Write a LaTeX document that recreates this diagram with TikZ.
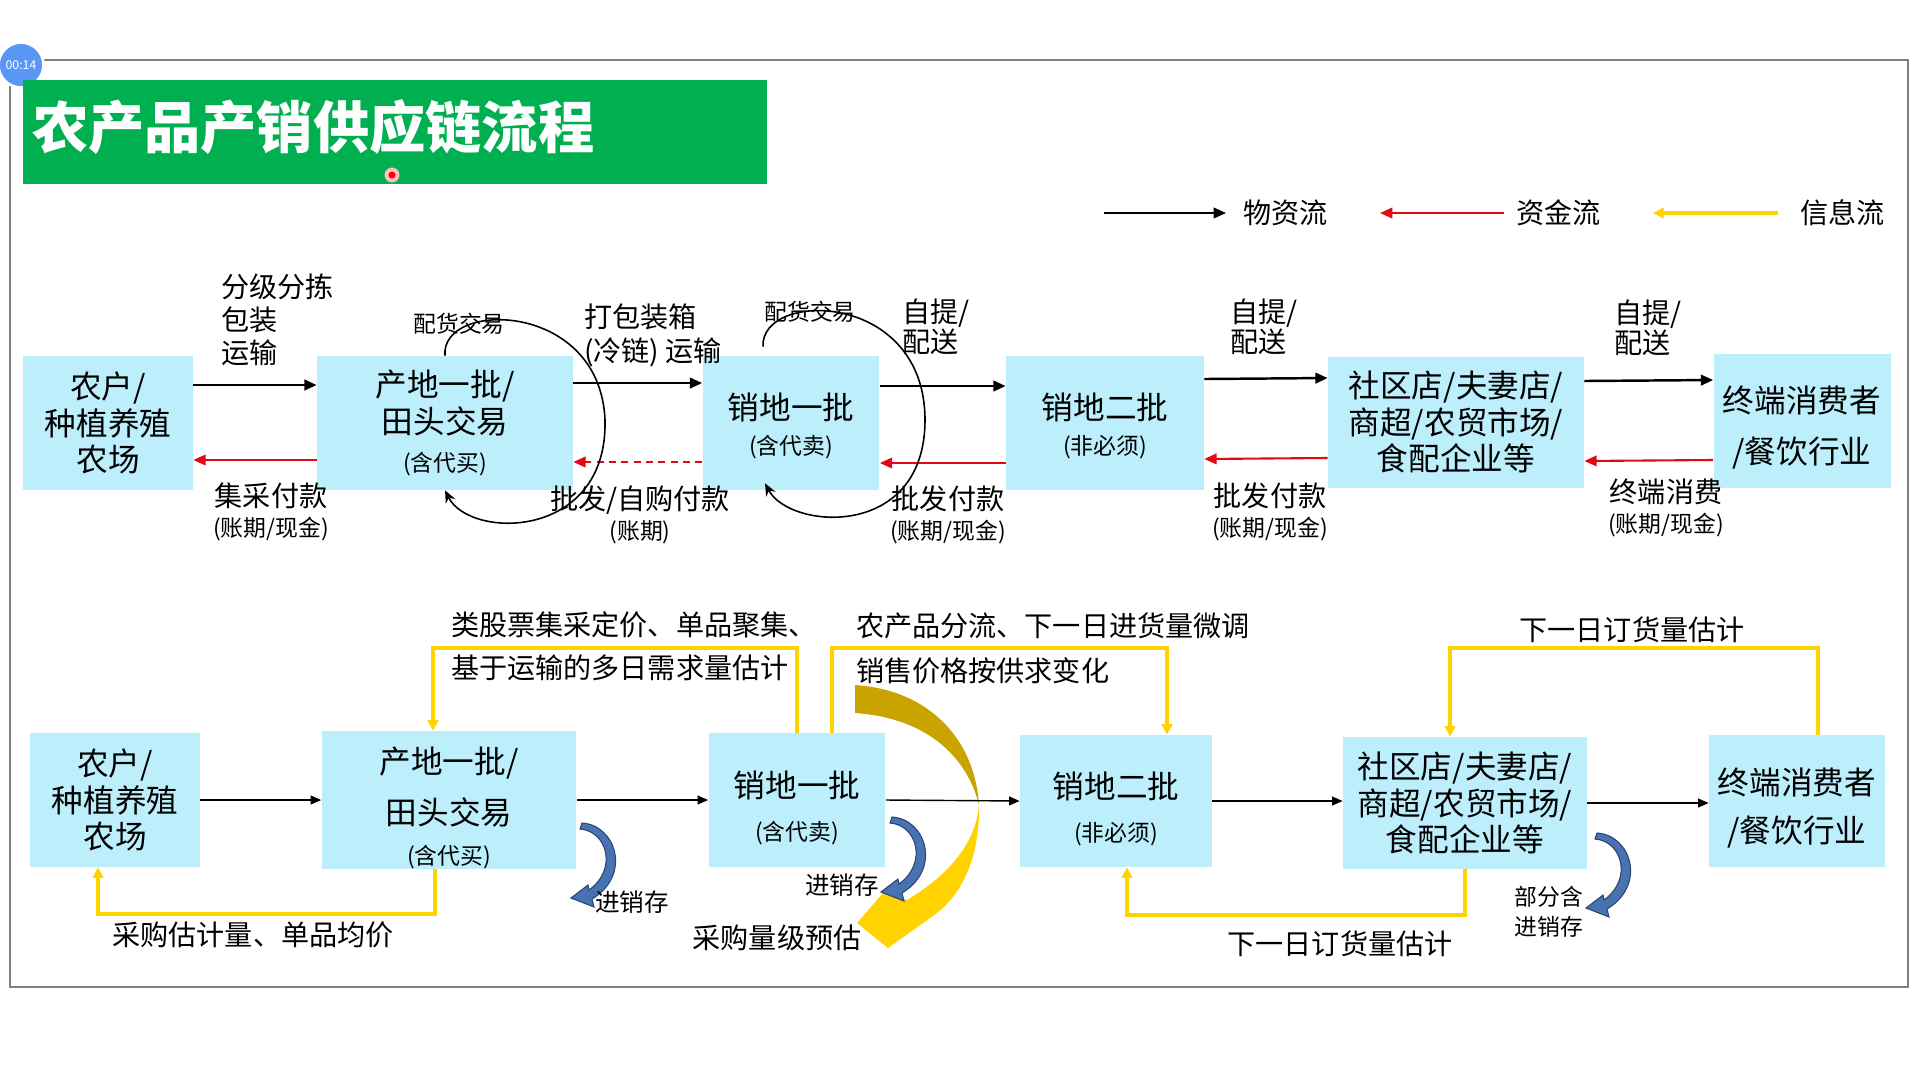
\documentclass[tikz,border=0pt]{standalone}
\usepackage{fontspec}
\setmainfont{Noto Sans CJK SC}
\usetikzlibrary{arrows.meta}
\definecolor{boxblue}{RGB}{189,238,251}
\definecolor{titlegreen}{RGB}{0,176,80}
\definecolor{moneyred}{RGB}{225,10,20}
\definecolor{infoyellow}{RGB}{255,210,0}
\definecolor{darkgold}{RGB}{201,163,0}
\definecolor{curlblue}{RGB}{72,114,176}
\definecolor{curledge}{RGB}{40,70,115}
\definecolor{timerblue}{RGB}{90,150,245}
\newcommand{\subtxt}[1]{{\fontsize{13}{15}\selectfont #1}}
\newcommand{\padtop}[1]{\rule{0pt}{#1}}

\begin{document}
\begin{tikzpicture}[x=0.02cm, y=-0.02cm,
  every node/.style={font=\fontsize{16}{17}\selectfont, inner sep=1pt},
  stage/.style={fill=boxblue, minimum height=2.68cm, inner sep=0pt, align=center, font=\fontsize{18}{21}\selectfont},
  goods/.style={-{Triangle[length=7pt,width=6pt]}, line width=1.4pt},
  money/.style={-{Triangle[length=7pt,width=6pt]}, line width=1.2pt, moneyred},
  flow/.style={-{Triangle[length=6pt,width=5pt]}, line width=0.8pt},
  info/.style={-{Triangle[length=6pt,width=6pt]}, line width=2.2pt, infoyellow},
  trade/.style={-{Stealth[length=7pt,width=6pt]}, line width=0.9pt},
  lab/.style={align=center},
  note/.style={font=\fontsize{13}{15}\selectfont},
  curl/.pic={\filldraw[fill=curlblue, draw=curledge, line width=0.6pt] (0,0) .. controls (34,2) and (50,52) .. (10,76) -- (12,84) -- (-11,75) -- (6,62) -- (7,67) .. controls (36,46) and (25,8) .. (-2,6) -- cycle;}]
  \useasboundingbox (0,0) rectangle (1920,1080);
  \draw[gray, line width=1pt] (10,60) rectangle (1908,987);
  \node[circle, fill=timerblue, draw=white, line width=1.5pt, minimum size=0.9cm, inner sep=0pt, text=white, font=\fontsize{7}{8}\selectfont] (timer) at (21,65) {00:14};
  % title and legend
  \fill[titlegreen] (23,80) rectangle (767,184);
  \node[anchor=west, text=white, font=\fontsize{32}{36}\selectfont\bfseries] (title) at (30,127) {农产品产销供应链流程};
  \fill[red!25] (392,175) circle (0.15cm);
  \fill[red] (392,175) circle (0.07cm);
  \node[anchor=west] (lgoods) at (1241,213) {物资流};
  \node[anchor=west] (lmoney) at (1514,213) {资金流};
  \node[anchor=west] (linfo) at (1798,213) {信息流};
  \coordinate (lg1) at (1104,213);
  \coordinate (lg2) at (1380,213);
  \coordinate (lg3) at (1653,213);
  \draw[goods, line width=1.1pt] (lg1) -- ([xshift=-0.3cm]lgoods.west);
  \draw[money] ([xshift=-0.2cm]lmoney.west) -- (lg2);
  \draw[info, line width=2.8pt] ([xshift=-0.4cm]linfo.west) -- (lg3);

  % upper chain: goods and money
  \node[stage, minimum width=3.4cm] (farm) at (108,423) {农户/\\种植养殖\\农场};
  \node[stage, minimum width=5.12cm] (orig) at (445,423) {产地一批/\\田头交易\\[1pt]\subtxt{(含代买)}};
  \node[stage, minimum width=3.54cm] (whs1) at (791,423) {\padtop{18.6pt}销地一批\\[-0.8pt]\subtxt{(含代卖)}};
  \node[stage, minimum width=3.96cm] (whs2) at (1105,423) {\padtop{18.6pt}销地二批\\[-0.8pt]\subtxt{(非必须)}};
  \node[stage, minimum width=5.12cm, minimum height=2.62cm] (shop) at (1456,422) {社区店/夫妻店/\\商超/农贸市场/\\食配企业等};
  \node[stage, minimum width=3.54cm] (cons) at (1802,421) {\padtop{22.8pt}终端消费者\\[8pt]/餐饮行业};

  \draw[goods] ([yshift=0.76cm]farm.east) -- ([yshift=0.76cm]orig.west);
  \draw[goods] ([yshift=0.8cm]orig.east) -- ([yshift=0.8cm]whs1.west);
  \draw[goods] ([yshift=0.74cm]whs1.east) -- ([yshift=0.74cm]whs2.west);
  \draw[goods] ([yshift=0.88cm]whs2.east) -- ([yshift=0.88cm]shop.west);
  \draw[goods] ([yshift=0.82cm]shop.east) -- ([yshift=0.82cm]cons.west);
  \draw[money] ([yshift=-0.74cm]orig.west) -- ([yshift=-0.74cm]farm.east);
  \draw[money, dash pattern=on 4pt off 3pt] ([yshift=-0.78cm]whs1.west) -- ([yshift=-0.78cm]orig.east);
  \draw[money] ([yshift=-0.8cm]whs2.west) -- ([yshift=-0.8cm]whs1.east);
  \draw[money] ([yshift=-0.72cm]shop.west) -- ([yshift=-0.72cm]whs2.east);
  \draw[money] ([yshift=-0.78cm]cons.west) -- ([yshift=-0.78cm]shop.east);

  \node[anchor=west, align=left, font=\fontsize{16}{18.8}\selectfont] (lsort) at (219,320) {分级分拣\\包装\\运输};
  \node[lab] (lpay1) at (271,512) {集采付款\\\subtxt{(账期/现金)}};
  \node[note] (ltrade1) at (459,324) {配货交易};
  \node[anchor=west, align=left, font=\fontsize{16}{19.4}\selectfont] (lpack) at (582,335) {打包装箱\\(冷链) 运输};
  \node[lab] (lpay2) at (640,515) {批发/自购付款\\\subtxt{(账期)}};
  \node[note] (ltrade2) at (810,312) {配货交易};
  \node[anchor=west, align=left] (lpick1) at (900,327) {自提/\\配送};
  \node[lab] (lpay3) at (948,515) {批发付款\\\subtxt{(账期/现金)}};
  \node[anchor=west, align=left] (lpick2) at (1228,327) {自提/\\配送};
  \node[lab] (lpay4) at (1270,512) {批发付款\\\subtxt{(账期/现金)}};
  \node[anchor=west, align=left] (lpick3) at (1612,328) {自提/\\配送};
  \node[lab] (lpay5) at (1666,508) {终端消费\\\subtxt{(账期/现金)}};

  \draw[trade] (orig.north) .. controls (440,300) and (600,300) .. (605,420) .. controls (608,540) and (470,540) .. (orig.south);
  \draw[trade] ([xshift=-0.56cm,yshift=0.18cm]whs1.north) .. controls (760,290) and (925,290) .. (925,420) .. controls (925,540) and (790,530) .. ([xshift=-0.52cm,yshift=0.14cm]whs1.south);

  % lower chain: information
  \node[stage, minimum width=3.4cm] (farmb) at (115,800) {农户/\\种植养殖\\农场};
  \node[stage, minimum width=5.1cm] (origb) at (449,800) {\padtop{24pt}产地一批/\\[8pt]田头交易\\[2pt]\subtxt{(含代买)}};
  \node[stage, minimum width=3.54cm] (whs1b) at (797,800) {\padtop{24pt}销地一批\\[3.5pt]\subtxt{(含代卖)}};
  \node[stage, minimum width=3.84cm, minimum height=2.64cm] (whs2b) at (1116,801) {\padtop{24pt}销地二批\\[3.5pt]\subtxt{(非必须)}};
  \node[stage, minimum width=4.88cm, minimum height=2.64cm] (shopb) at (1465,803) {社区店/夫妻店/\\商超/农贸市场/\\食配企业等};
  \node[stage, minimum width=3.52cm, minimum height=2.64cm] (consb) at (1797,801) {\padtop{23pt}终端消费者\\[6pt]/餐饮行业};

  \fill[darkgold] (855,685) .. controls (930,690) and (975,740) .. (979,805) .. controls (968,760) and (930,718) .. (855,713) -- cycle;
  \fill[infoyellow] (979,805) .. controls (980,860) and (960,895) .. (937,913) -- (888,948) -- (857,923) -- (883,893) -- (907,900) .. controls (940,880) and (975,850) .. (979,805) -- cycle;
  \pic at (582,823) {curl};
  \pic at (892,817) {curl};
  \pic at (1597,833) {curl};

  \draw[flow] (farmb.east) -- (origb.west);
  \draw[flow] (origb.east) -- (whs1b.west);
  \draw[flow] (whs1b.east) -- (whs2b.west);
  \draw[flow] (whs2b.east) -- (whs2b.east -| shopb.west);
  \draw[flow] (shopb.east) -- (shopb.east -| consb.west);

  \draw[info] ([xshift=-0.28cm]origb.south) -- ++(0,45) -| ([xshift=-0.34cm]farmb.south);
  \draw[info] (whs1b.north) -- ++(0,-85) -| ([xshift=-0.32cm]origb.north);
  \draw[info] ([xshift=0.7cm]whs1b.north) -- ++(0,-85) -| ([xshift=1.02cm]whs2b.north);
  \draw[info] (shopb.south) -- ++(0,46) -| ([xshift=0.22cm]whs2b.south);
  \draw[info] ([xshift=0.42cm]consb.north) -- ++(0,-87) -| ([xshift=-0.3cm]shopb.north);

  \node[anchor=west, align=left, font=\fontsize{16}{24.5}\selectfont] (lstock) at (449,646) {类股票集采定价、单品聚集、\\基于运输的多日需求量估计};
  \node[anchor=west, align=left, font=\fontsize{16}{25.6}\selectfont] (lsplit) at (854,648) {农产品分流、下一日进货量微调\\销售价格按供求变化};
  \node (lorder1) at (1632,630) {下一日订货量估计};
  \node (lorder2) at (1340,944) {下一日订货量估计};
  \node (lbuy) at (253,935) {采购估计量、单品均价};
  \node (lscale) at (777,938) {采购量级预估};
  \node[font=\fontsize{14}{16}\selectfont] (lpsi1) at (632,902) {进销存};
  \node[font=\fontsize{14}{16}\selectfont] (lpsi2) at (842,885) {进销存};
  \node[align=center, font=\fontsize{13}{17}\selectfont] (lpsi3) at (1549,912) {部分含\\进销存};
\end{tikzpicture}
\end{document}
